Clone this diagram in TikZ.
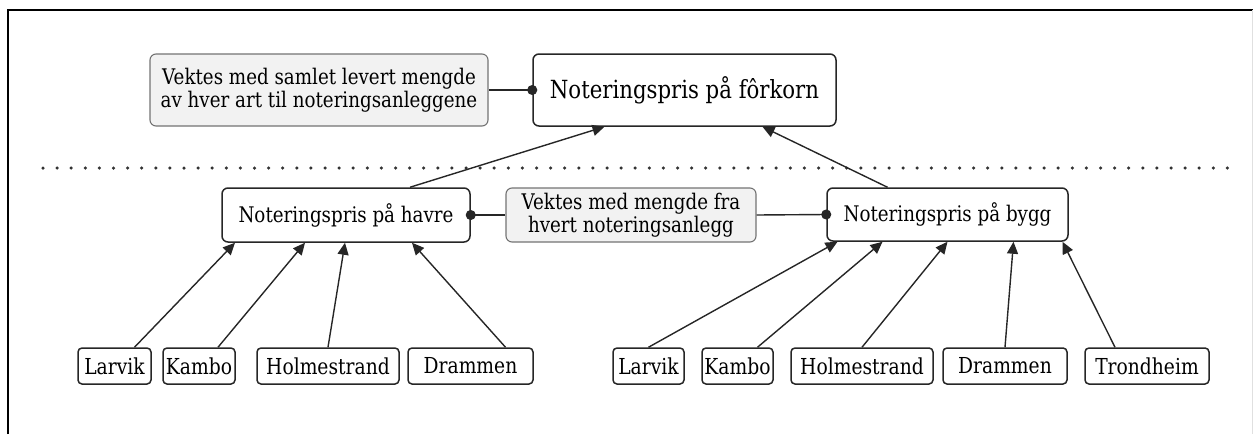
\documentclass[tikz,border=0pt]{standalone}
\usepackage{fontspec}
\setmainfont{DejaVu Serif}[FakeStretch=0.85]
\usetikzlibrary{arrows.meta, calc}

\begin{document}
\begin{tikzpicture}[x=1pt, y=-1pt,
        box/.style={draw=black!85, line width=1.5pt, rounded corners=6pt, fill=white, inner sep=0pt},
        note/.style={draw=black!55, line width=1.1pt, rounded corners=6pt, fill=black!5, inner sep=0pt, align=center, font=\fontsize{21.5}{23.5}\selectfont},
        town/.style={box, rounded corners=4pt, minimum height=36pt, font=\fontsize{22}{24}\selectfont},
        feed/.style={line width=1.4pt, black!85, -{Triangle[length=12pt, width=11pt]}},
        link/.style={line width=1.4pt, black!85, {Circle[length=10pt]}-, shorten <=-5pt}]
        \useasboundingbox (0,0) rectangle (1253,434);

        % frame
        \draw[line width=1.5pt] (8,434) -- (8,10) -- (1253,10);
        \draw[black!12, line width=1pt] (1252,10) -- (1252,434);
        \draw[line width=3.5pt, line cap=round, dash pattern=on 0pt off 14.1pt, black!80] (43,168) -- (1230,168);

        \node[box, minimum width=303pt, minimum height=72pt, font=\fontsize{25}{28}\selectfont] (forkorn) at (684.5,90) {Noteringspris på fôrkorn};
        \node[note, minimum width=338pt, minimum height=72pt] (samlet) at (319,90) {Vektes med samlet levert mengde\\av hver art til noteringsanleggene};

        \node[box, minimum width=248pt, minimum height=54pt, font=\fontsize{21.5}{24}\selectfont] (havre) at (346,215) {Noteringspris på havre};
        \node[note, minimum width=250pt, minimum height=54pt] (mengde) at (631,215) {Vektes med mengde fra\\hvert noteringsanlegg};
        \node[box, minimum width=241pt, minimum height=53pt, font=\fontsize{21.5}{24}\selectfont] (bygg) at (947.5,214.5) {Noteringspris på bygg};

        \node[town, minimum width=73pt] (larvikh) at (114.5,366) {Larvik};
        \node[town, minimum width=72pt] (kamboh) at (199,366) {Kambo};
        \node[town, minimum width=142pt] (holmh) at (328,366) {Holmestrand};
        \node[town, minimum width=125pt] (drammenh) at (470.5,366) {Drammen};

        \node[town, minimum width=71pt] (larvikb) at (648.5,366) {Larvik};
        \node[town, minimum width=71pt] (kambob) at (737.5,366) {Kambo};
        \node[town, minimum width=142pt] (holmb) at (862,366) {Holmestrand};
        \node[town, minimum width=124pt] (drammenb) at (1005,366) {Drammen};
        \node[town, minimum width=124pt] (trondb) at (1147,366) {Trondheim};

        \draw[link] (forkorn.west) -- (samlet.east);
        \draw[link] (havre.east) -- (mengde.west);
        \draw[link] (bygg.west) -- (mengde.east);

        \draw[feed] ([xshift=64pt]havre.north) -- ([xshift=-80pt]forkorn.south);
        \draw[feed] ([xshift=-60pt]bygg.north) -- ([xshift=78pt]forkorn.south);

        \draw[feed] ([xshift=20pt]larvikh.north) -- ([xshift=-111pt]havre.south);
        \draw[feed] ([xshift=19pt]kamboh.north) -- ([xshift=-41pt]havre.south);
        \draw[feed] (holmh.north) -- ([xshift=-1pt]havre.south);
        \draw[feed] ([xshift=35pt]drammenh.north) -- ([xshift=66pt]havre.south);

        \draw[feed] (larvikb.north) -- ([xshift=-110pt]bygg.south);
        \draw[feed] ([xshift=20pt]kambob.north) -- ([xshift=-65pt]bygg.south);
        \draw[feed] (holmb.north) -- ([xshift=0pt]bygg.south);
        \draw[feed] (drammenb.north) -- ([xshift=66pt]bygg.south);
        \draw[feed] ([xshift=-32pt]trondb.north) -- ([xshift=115pt]bygg.south);
\end{tikzpicture}
\end{document}
